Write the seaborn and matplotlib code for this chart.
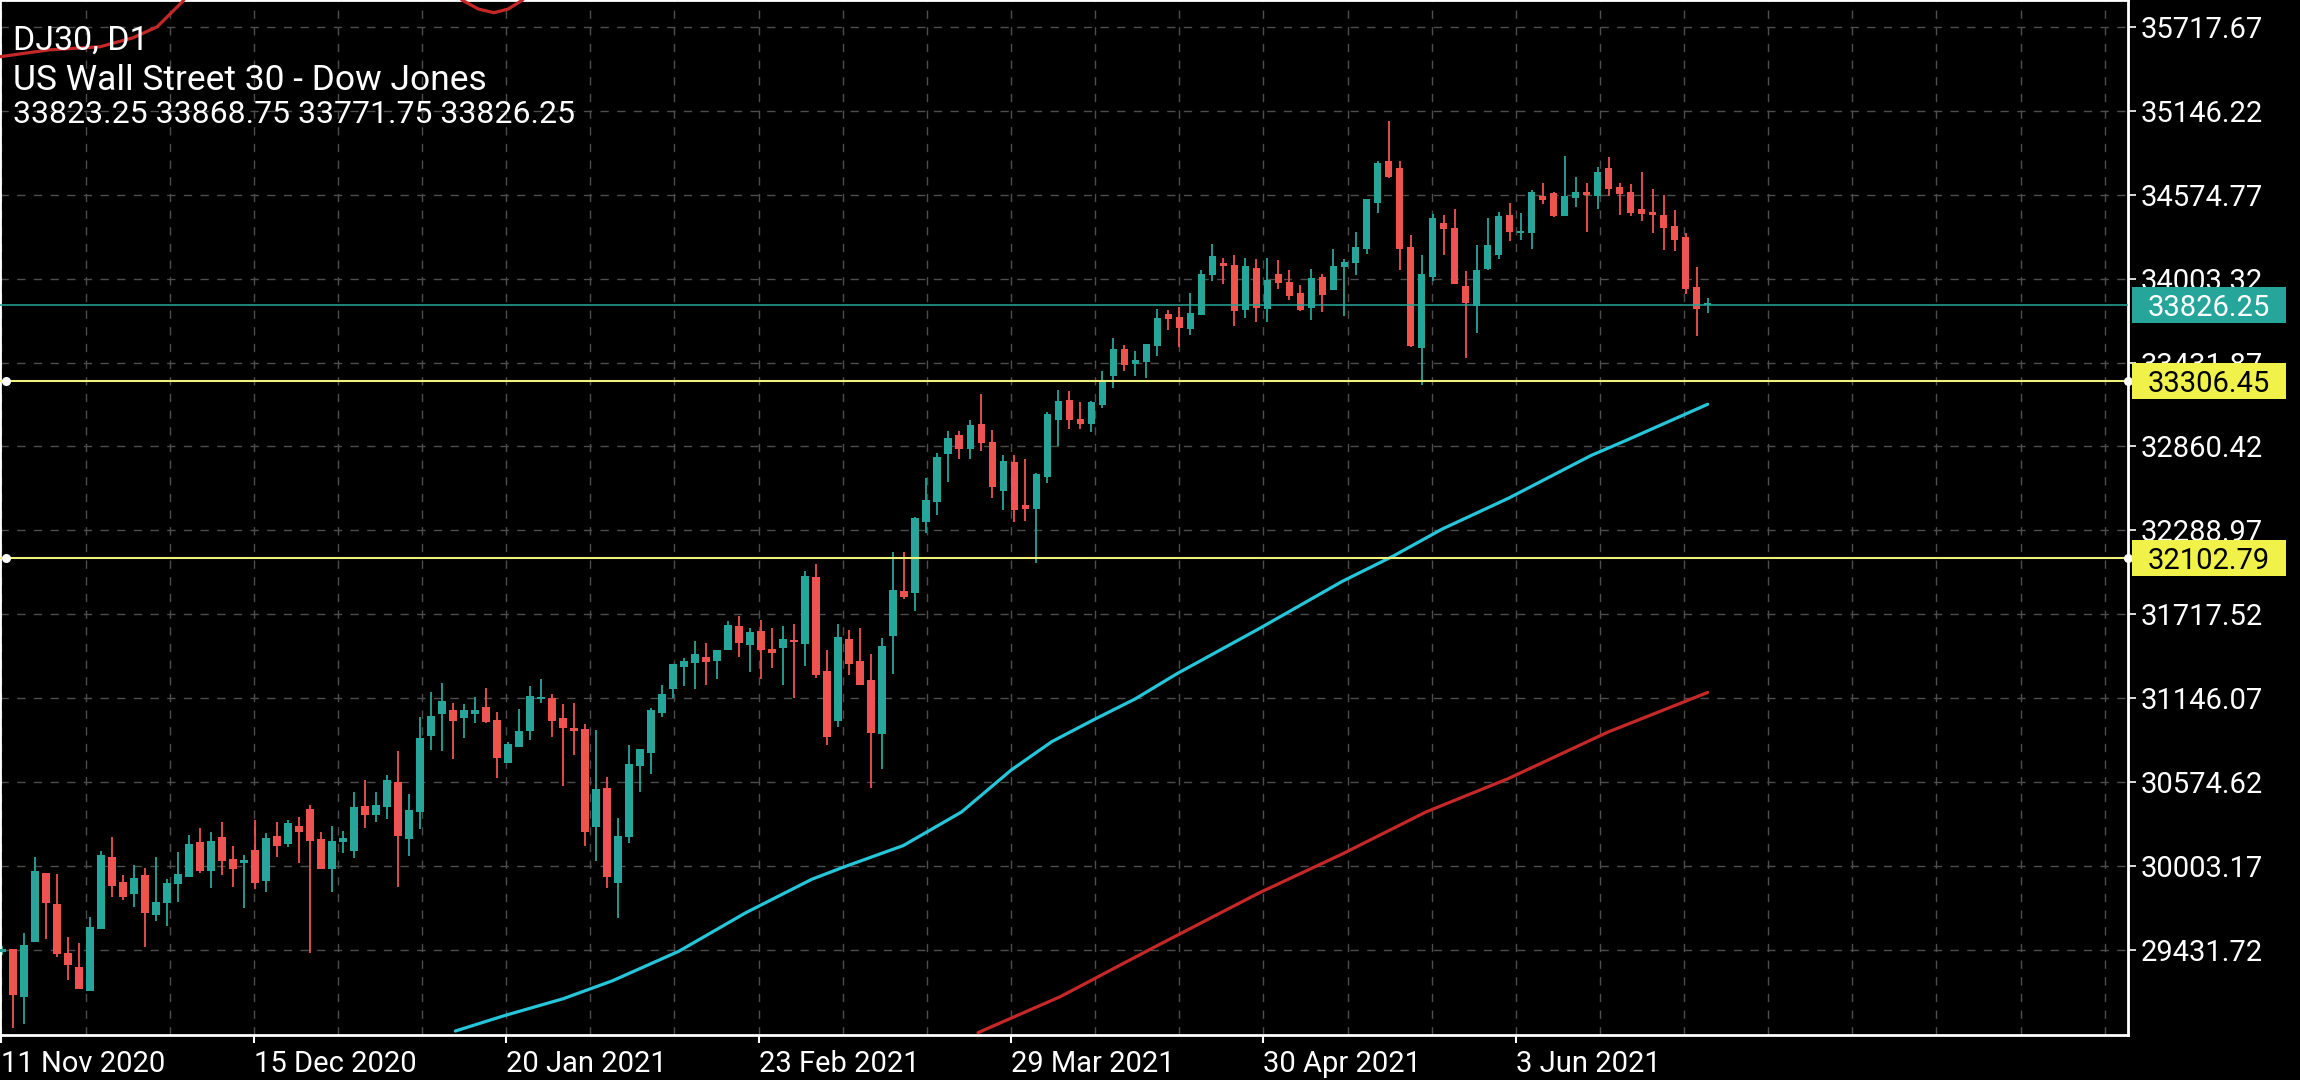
import numpy as np
import pandas as pd
import matplotlib
matplotlib.use("Agg")
import matplotlib.pyplot as plt
import seaborn as sns
from matplotlib.patches import Rectangle
from matplotlib.transforms import blended_transform_factory

# ---------------- data ----------------
bar_open = [29420, 29438, 29113, 29486, 29953, 29745, 29411, 29316, 29154, 29577,
            30062, 29894, 29813, 29940, 29672, 29754, 29883, 29931, 30165, 29971,
            30199, 30049, 30022, 30110, 29903, 30208, 30151, 30278, 30391, 30187,
            29982, 30169, 30105, 30412, 30353, 30407, 30575, 30187, 30371, 30889,
            31039, 31066, 31014, 31039, 31089, 30998, 30707, 30814, 30923, 31139,
            31150, 31014, 30941, 30937, 30266, 30534, 29889, 30202, 30683, 30774,
            31042, 31207, 31357, 31386, 31429, 31400, 31477, 31636, 31509, 31602,
            31479, 31488, 31541, 31513, 31969, 31330, 30989, 31552, 31398, 31273,
            30899, 31573, 31877, 31865, 32348, 32484, 32806, 32940, 32844, 33012,
            32894, 32559, 32754, 32459, 32434, 32654, 33042, 33176, 33051, 33012,
            33144, 33341, 33522, 33423, 33434, 33545, 33761, 33745, 33663, 33756,
            34026, 34112, 34098, 33790, 34078, 33794, 34033, 33983, 33906, 33803,
            34017, 33924, 34082, 34107, 34209, 34522, 34806, 34758, 34221, 33529,
            34017, 34384, 34350, 33951, 33817, 34069, 34168, 34434, 34316, 34314,
            34570, 34586, 34429, 34554, 34597, 34565, 34756, 34626, 34592, 34475,
            34461, 34434, 34359, 34286, 33944, 33823.25]
bar_high = [29460, 29440, 29545, 30062, 29955, 29947, 29520, 29477, 29658, 30105,
            30199, 29940, 30008, 29987, 30062, 29912, 30099, 30212, 30260, 30233,
            30301, 30140, 30076, 30317, 30226, 30301, 30317, 30339, 30419, 30237,
            30276, 30239, 30507, 30589, 30507, 30621, 30787, 30494, 31016, 31187,
            31248, 31112, 31105, 31153, 31214, 31050, 30850, 31071, 31230, 31277,
            31175, 31107, 31116, 30971, 30928, 30606, 30327, 30826, 30799, 31082,
            31239, 31377, 31423, 31534, 31525, 31477, 31670, 31708, 31622, 31677,
            31627, 31636, 31654, 32010, 32062, 31477, 31654, 31613, 31627, 31450,
            31559, 32140, 32140, 32377, 32649, 32813, 32965, 32965, 33039, 33221,
            32971, 32801, 32801, 32772, 32681, 33094, 33248, 33241, 33162, 33169,
            33375, 33602, 33554, 33509, 33561, 33795, 33788, 33808, 33903, 34062,
            34239, 34146, 34164, 34146, 34139, 34146, 34130, 34064, 33962, 34069,
            34037, 34207, 34137, 34323, 34547, 34806, 35078, 34806, 34300, 34166,
            34443, 34436, 34479, 34053, 34230, 34416, 34461, 34518, 34454, 34608,
            34654, 34593, 34842, 34699, 34656, 34763, 34831, 34656, 34649, 34733,
            34611, 34574, 34468, 34314, 34082, 33868.75]
bar_low = [29395, 28898, 28925, 29486, 29508, 29386, 29227, 29166, 29154, 29577,
           29794, 29772, 29726, 29454, 29631, 29597, 29760, 29931, 29958, 29856,
           29942, 29863, 29715, 29844, 29829, 30067, 30135, 30022, 29412, 29980,
           29828, 30094, 30060, 30260, 30303, 30323, 29862, 30073, 30257, 30794,
           30789, 30732, 30878, 30975, 30980, 30605, 30707, 30814, 30862, 31112,
           30884, 30550, 30759, 30141, 30039, 29851, 29647, 30162, 30509, 30633,
           31019, 31144, 31230, 31209, 31234, 31278, 31477, 31427, 31327, 31280,
           31352, 31234, 31146, 31366, 31287, 30828, 30951, 31305, 31237, 30536,
           30661, 31309, 31820, 31743, 32268, 32391, 32622, 32772, 32772, 32831,
           32513, 32425, 32348, 32352, 32064, 32609, 32863, 32980, 32980, 32960,
           33126, 33262, 33375, 33339, 33327, 33477, 33654, 33536, 33620, 33756,
           33985, 33967, 33679, 33735, 33706, 33708, 33933, 33860, 33785, 33724,
           33774, 33924, 33751, 34028, 34169, 34454, 34692, 34062, 33540, 33280,
           33985, 34162, 33969, 33463, 33635, 34060, 34137, 34259, 34268, 34207,
           34509, 34422, 34429, 34490, 34320, 34475, 34568, 34438, 34431, 34395,
           34316, 34200, 34191, 33896, 33613, 33771.75]
bar_close = [29440, 29125, 29465, 29969, 29754, 29406, 29331, 29166, 29588, 30078,
             29867, 29790, 29919, 29686, 29756, 29885, 29947, 30151, 29969, 30171,
             30040, 29985, 30044, 29890, 30192, 30142, 30296, 30233, 30173, 29980,
             30173, 30194, 30405, 30353, 30419, 30589, 30210, 30385, 30878, 31025,
             31128, 30991, 31066, 31066, 30982, 30741, 30834, 30923, 31162, 31153,
             30991, 30946, 30925, 30235, 30529, 29930, 30207, 30697, 30799, 31064,
             31173, 31377, 31398, 31450, 31393, 31473, 31643, 31525, 31600, 31475,
             31454, 31547, 31527, 31976, 31302, 30883, 31561, 31382, 31237, 30910,
             31500, 31883, 31838, 32370, 32495, 32790, 32917, 32842, 33005, 32883,
             32584, 32760, 32429, 32434, 32670, 33085, 33169, 33042, 33012, 33162,
             33300, 33527, 33418, 33452, 33557, 33738, 33731, 33665, 33767, 34037,
             34160, 34087, 33781, 34087, 33801, 33996, 33971, 33887, 33792, 34010,
             33892, 34091, 34116, 34216, 34547, 34794, 34699, 34203, 33545, 34037,
             34414, 34345, 33969, 33835, 34060, 34236, 34427, 34320, 34327, 34592,
             34538, 34429, 34570, 34597, 34574, 34733, 34611, 34577, 34454, 34443,
             34436, 34348, 34270, 33930, 33794, 33826.25]

# moving averages (bar index, price)
ma_fast_x = [41.2, 45.7, 51.0, 55.5, 61.5, 67.6, 73.6, 76.6, 81.9, 87.2, 91.7, 95.4,
             99.2, 103.0, 106.8, 114.3, 121.8, 126.4, 130.9, 136.9, 144.4, 147.5, 155.0]
ma_fast_y = [28879, 28985, 29099, 29222, 29422, 29685, 29913, 29999, 30142, 30371, 30656, 30850,
             30999, 31142, 31314, 31622, 31942, 32113, 32299, 32508, 32799, 32899, 33148]
ma_slow_x = [88.7, 96.2, 104.5, 114.3, 121.8, 129.4, 136.9, 145.9, 155.0]
ma_slow_y = [28868, 29114, 29442, 29822, 30085, 30371, 30599, 30914, 31185]
# upper red indicator (mostly above the visible range)
upper_a_x = [-0.2, 4.3, 8.9, 11.9, 14.1, 16.4, 17.5]
upper_a_y = [35515, 35562, 35583, 35644, 35719, 35890, 36004]
upper_b_x = [40.7, 41.8, 43.3, 44.7, 46.0, 47.3, 48.5]
upper_b_y = [36004, 35901, 35840, 35815, 35840, 35901, 36004]

price_ticks = [35717.67, 35146.22, 34574.77, 34003.32, 33431.87, 32860.42,
               32288.97, 31717.52, 31146.07, 30574.62, 30003.17, 29431.72]
date_labels = ["11 Nov 2020", "15 Dec 2020", "20 Jan 2021", "23 Feb 2021",
               "29 Mar 2021", "30 Apr 2021", "3 Jun 2021"]
level_lines = [33306.45, 32102.79]
last_price = 33826.25
header = ["DJ30, D1", "US Wall Street 30 - Dow Jones",
          "33823.25 33868.75 33771.75 33826.25"]

# ---------------- style ----------------
TEAL = "#26a69a"
RED = "#ef5350"
MA_FAST = "#26c6da"
MA_SLOW = "#c62828"
YELLOW_LINE = "#eef27a"
YELLOW_BOX = "#f0f24a"
GRID = "#4d4d4d"

sns.set_theme(style="dark", rc={"axes.facecolor": "black", "figure.facecolor": "black",
                                "savefig.facecolor": "black"})
plt.rcParams['font.family'] = ['Roboto', 'DejaVu Sans']

W, H = 2300, 1080
fig = plt.figure(figsize=(W / 100, H / 100), dpi=100)
ax_left_px, ax_right_px, ax_bottom_px = 0, 2128, 1035
ax = fig.add_axes([ax_left_px / W, (H - ax_bottom_px) / H,
                   (ax_right_px - ax_left_px) / W, ax_bottom_px / H])
ax.set_facecolor("black")
ax.grid(False)

ymin, ymax = 28852, 35901.6
xmin, xmax = -0.18, 193.2
ax.set_xlim(xmin, xmax)
ax.set_ylim(ymin, ymax)

# grid
for yv in price_ticks:
    ax.axhline(yv, color=GRID, lw=1.0, ls=(0, (6, 6)), zorder=0.5)
grid_step = 84.1 / 11.0
grid_x = [-0.05 + grid_step * k for k in range(26)]
for xv in grid_x:
    ax.axvline(xv, color=GRID, lw=1.0, ls=(0, (6, 6)), zorder=0.5)

# candles
df = pd.DataFrame({"o": bar_open, "h": bar_high, "l": bar_low, "c": bar_close})
df["i"] = np.arange(len(df))
up = df["c"] >= df["o"]
cols = np.where(up, TEAL, RED)
ax.vlines(df["i"], df["l"], df["h"], colors=cols, lw=1.3, zorder=2)
body_bottom = np.minimum(df["o"], df["c"])
body_h = np.maximum((df["c"] - df["o"]).abs(), 12)
ax.bar(df["i"], body_h, bottom=body_bottom, width=0.7, color=cols, linewidth=0, zorder=3)

# moving averages
sns.lineplot(x=ma_fast_x, y=ma_fast_y, ax=ax, color=MA_FAST, lw=2.3, zorder=4)
sns.lineplot(x=ma_slow_x, y=ma_slow_y, ax=ax, color=MA_SLOW, lw=2.3, zorder=4)
sns.lineplot(x=upper_a_x, y=upper_a_y, ax=ax, color=MA_SLOW, lw=2.3, zorder=4)
sns.lineplot(x=upper_b_x, y=upper_b_y, ax=ax, color=MA_SLOW, lw=2.3, zorder=4)

# horizontal levels
ax.axhline(last_price, color=TEAL, lw=1.1, zorder=5)
for lv in level_lines:
    ax.axhline(lv, color=YELLOW_LINE, lw=1.5, zorder=5)
    ax.plot([0.003, 1.0], [lv, lv], 'o', color="white", ms=5.5,
            transform=blended_transform_factory(ax.transAxes, ax.transData),
            clip_on=False, zorder=6)

# axes / ticks
for side in ["left", "bottom", "right", "top"]:
    ax.spines[side].set_color("white")
    ax.spines[side].set_linewidth(2.0)
ax.yaxis.tick_right()
ax.set_yticks(price_ticks)
ax.set_yticklabels([f"{v:.2f}" for v in price_ticks])
ax.tick_params(axis="y", which="major", right=True, left=False, length=6, width=1.2,
               color="white", labelcolor="white", labelsize=21, pad=3)
label_pos = grid_x[::3][:len(date_labels)]
ax.set_xticks(label_pos)
ax.set_xticklabels(date_labels, ha="left")
ax.tick_params(axis="x", which="major", bottom=True, length=6, width=1.5,
               color="white", labelcolor="white", labelsize=21, pad=5)
ax.set_xlabel("")
ax.set_ylabel("")

# price boxes on the right axis
px_per_data = ax_bottom_px / (ymax - ymin)
box_h = 36 / px_per_data
bt = blended_transform_factory(fig.transFigure, ax.transData)
boxes = [(last_price, TEAL, "white"),
         (level_lines[0], YELLOW_BOX, "black"),
         (level_lines[1], YELLOW_BOX, "black")]
for val, fc, tc in boxes:
    r = Rectangle((2132 / W, val - box_h / 2), 154 / W, box_h, transform=bt,
                  facecolor=fc, edgecolor="none", clip_on=False, zorder=20)
    ax.add_patch(r)
    ax.text(2209 / W, val, f"{val:.2f}", transform=bt, ha="center", va="center_baseline",
            color=tc, fontsize=21, clip_on=False, zorder=21)

# header text
header_style = [(50, 24.5), (90, 25.5), (123, 23)]
for txt, (b, fs) in zip(header, header_style):
    fig.text(13 / W, 1 - b / H, txt, color="white", fontsize=fs,
             ha="left", va="baseline")

fig.savefig("out.png", dpi=100, facecolor="black")
